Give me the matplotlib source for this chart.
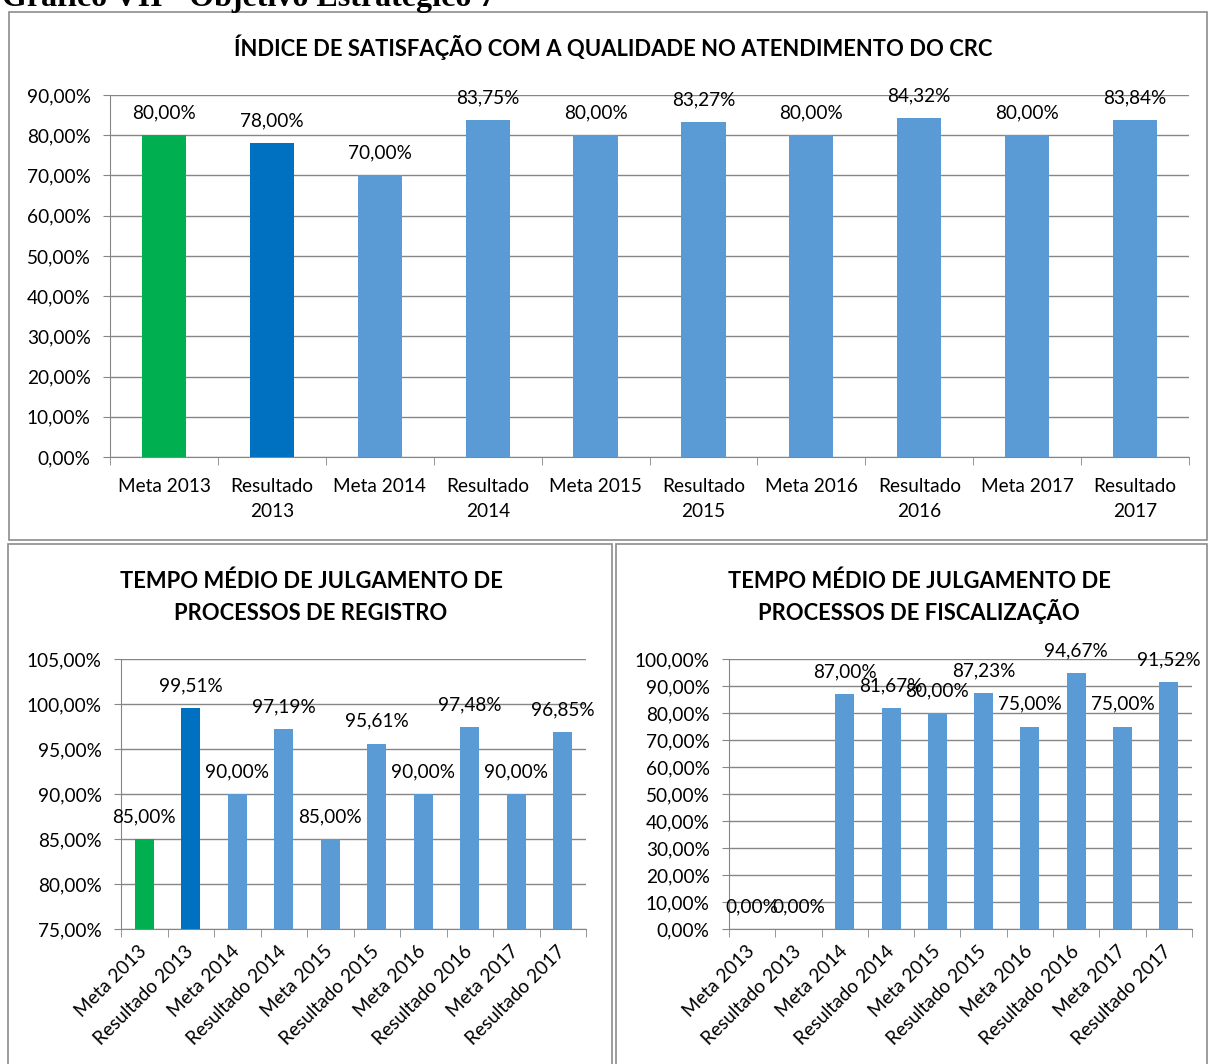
import numpy as np
import matplotlib.pyplot as plt
from matplotlib.patches import Rectangle
from matplotlib.ticker import FuncFormatter, FixedLocator

plt.rcParams['font.family'] = ['Lato', 'DejaVu Sans']

# dados
categorias = ['Meta 2013', 'Resultado 2013', 'Meta 2014', 'Resultado 2014', 'Meta 2015',
              'Resultado 2015', 'Meta 2016', 'Resultado 2016', 'Meta 2017', 'Resultado 2017']
satisfacao = [80.00, 78.00, 70.00, 83.75, 80.00, 83.27, 80.00, 84.32, 80.00, 83.84]
registro = [85.00, 99.51, 90.00, 97.19, 85.00, 95.61, 90.00, 97.48, 90.00, 96.85]
fiscalizacao = [0.00, 0.00, 87.00, 81.67, 80.00, 87.23, 75.00, 94.67, 75.00, 91.52]
cores = ['#00B050', '#0070C0'] + ['#5B9BD5'] * 8

W, H = 1208, 1064
fig = plt.figure(figsize=(W / 100, H / 100), dpi=100)
cinza = '#868686'
fs = 13.7


def pct(v, pos=None):
    return f'{v:.2f}'.replace('.', ',') + '%'


def eixo(left, top, right, bottom):
    return fig.add_axes([left / W, 1 - bottom / H, (right - left) / W, (bottom - top) / H])


def caixa(x0, y0, x1, y1):
    fig.add_artist(Rectangle((x0 / W, 1 - y1 / H), (x1 - x0) / W, (y1 - y0) / H,
                             transform=fig.transFigure, fill=False, ec='#8c8c8c', lw=1.2))


def titulo(x, y, texto):
    # y = linha de base em pixels a partir do topo
    fig.text(x / W, 1 - y / H, texto, ha='center', va='baseline', weight='bold', fontsize=15.8)


def grafico(ax, valores, ymin, ymax, passo, rot):
    x = np.arange(len(categorias))
    ax.bar(x, valores, width=0.41, color=cores, zorder=3)
    ax.set_xlim(-0.5, len(categorias) - 0.5)
    ax.set_ylim(ymin, ymax)
    ax.yaxis.set_major_locator(FixedLocator(np.arange(ymin, ymax + 0.1, passo)))
    ax.yaxis.set_major_formatter(FuncFormatter(pct))
    ax.grid(axis='y', color=cinza, lw=1, zorder=0)
    for s in ['top', 'right']:
        ax.spines[s].set_visible(False)
    for s in ['left', 'bottom']:
        ax.spines[s].set_color(cinza)
    ax.tick_params(axis='y', colors=cinza, length=5, labelcolor='black', labelsize=fs, pad=9)
    ax.set_xticks(x)
    ax.set_xticks(np.arange(-0.5, len(categorias)), minor=True)
    ax.tick_params(axis='x', which='major', length=0)
    ax.tick_params(axis='x', which='minor', length=6, color=cinza)
    if rot:
        ax.set_xticklabels(categorias, rotation=45, ha='right', va='center',
                           rotation_mode='anchor', fontsize=fs)
        ax.tick_params(axis='x', which='major', pad=14)
    else:
        rotulos = [c.replace('Resultado ', 'Resultado\n') for c in categorias]
        ax.set_xticklabels(rotulos, fontsize=fs, linespacing=1.55)
        ax.tick_params(axis='x', which='major', pad=15)
    for xi, v in zip(x, valores):
        ax.annotate(pct(v), (xi, max(v, ymin)), xytext=(0, 16), textcoords='offset points',
                    ha='center', va='center', fontsize=fs, zorder=4, annotation_clip=False)


# cabeçalho cortado
fig.text(2 / W, 1 - 6 / H, 'Gráfico VII - Objetivo Estratégico 7', family='Liberation Serif',
         weight='bold', fontsize=23, ha='left', va='baseline')

caixa(9, 12, 1207, 540)
caixa(8, 544, 612, 1070)
caixa(616, 544, 1207, 1070)

ax1 = eixo(110, 95, 1189, 457)
grafico(ax1, satisfacao, 0, 90, 10, False)
titulo(613, 56, 'ÍNDICE DE SATISFAÇÃO COM A QUALIDADE NO ATENDIMENTO DO CRC')

ax2 = eixo(121, 659, 586, 929)
grafico(ax2, registro, 75, 105, 5, True)
titulo(311, 588, 'TEMPO MÉDIO DE JULGAMENTO DE')
titulo(311, 620, 'PROCESSOS DE REGISTRO')

ax3 = eixo(729, 659, 1192, 929)
grafico(ax3, fiscalizacao, 0, 100, 10, True)
titulo(919, 588, 'TEMPO MÉDIO DE JULGAMENTO DE')
titulo(919, 620, 'PROCESSOS DE FISCALIZAÇÃO')

fig.savefig('out.png', dpi=100)
